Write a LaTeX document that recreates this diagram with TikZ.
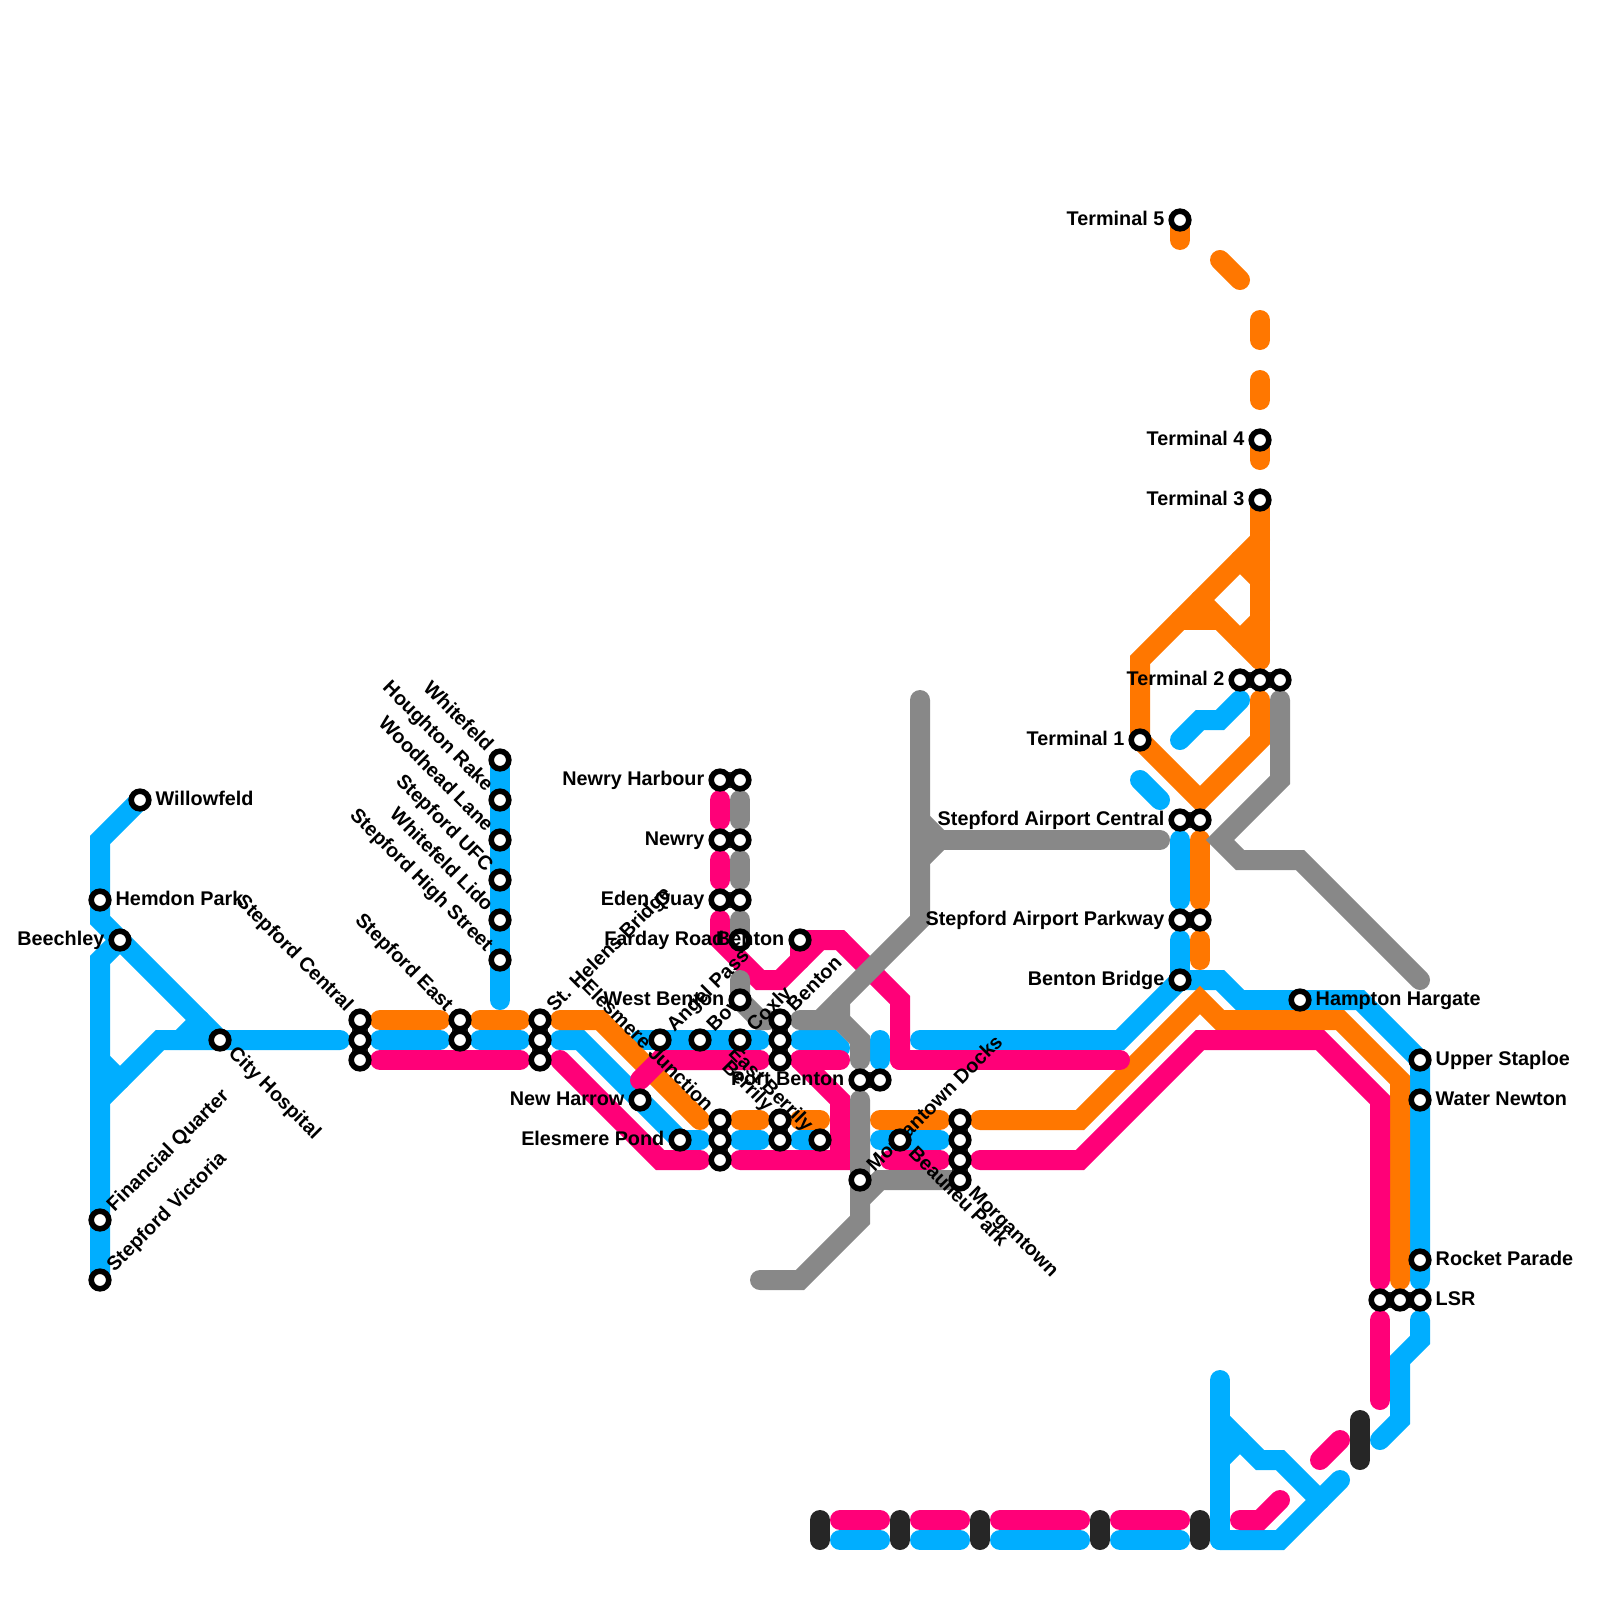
\documentclass[tikz,border=0pt]{standalone}
\usepackage{fontspec}
\setmainfont{Liberation Sans}
\usepackage{xcolor}
\usetikzlibrary{arrows.meta,positioning,calc}
\definecolor{lineblue}{HTML}{00AEFF}
\definecolor{lineorange}{HTML}{FF7700}
\definecolor{linepink}{HTML}{FF0078}
\definecolor{linegray}{HTML}{888888}
\definecolor{linedark}{HTML}{262626}
\pgfdeclarelayer{lines}
\pgfsetlayers{lines,main}
\begin{document}
\begin{tikzpicture}[x=20pt,y=-20pt]
\tikzset{
  bluel/.style={line width=20pt, line cap=round, color=lineblue},
  orangel/.style={line width=20pt, line cap=round, color=lineorange},
  pinkl/.style={line width=20pt, line cap=round, color=linepink},
  grayl/.style={line width=20pt, line cap=round, color=linegray},
  darkl/.style={line width=20pt, line cap=round, color=linedark},
  xfer/.style={line width=16pt, color=linedark},
  stn/.style={circle, draw=black, line width=5.6pt, fill=white, minimum size=17.6pt, inner sep=0pt},
  lab/.style={font=\fontsize{19.8}{24}\selectfont\bfseries, inner sep=0pt},
  labr/.style={lab, anchor=base west, xshift=15.5pt, yshift=-5pt},
  labl/.style={lab, anchor=base east, xshift=-15.5pt, yshift=-5pt},
  labur/.style={lab, anchor=base west, xshift=14.5pt, yshift=7.5pt, rotate=45},
  labdr/.style={lab, anchor=base west, xshift=7.5pt, yshift=-14.5pt, rotate=-45},
  labul/.style={lab, anchor=base east, xshift=-14.5pt, yshift=7.5pt, rotate=-45}
}
\useasboundingbox (0,0) rectangle (80,80);
\node[stn] (willowfeld) at (7,40) {};
\node[labr] (willowfeldl) at (willowfeld) {Willowfeld};
\node[stn] (hemdon) at (5,45) {};
\node[labr] (hemdonl) at (hemdon) {Hemdon Park};
\node[stn] (beechley) at (6,47) {};
\node[labl] (beechleyl) at (beechley) {Beechley};
\node[stn] (cityhosp) at (11,52) {};
\node[labdr] (cityhospl) at (cityhosp) {City Hospital};
\node[stn] (finquarter) at (5,61) {};
\node[labur] (finquarterl) at (finquarter) {Financial Quarter};
\node[stn] (stepvictoria) at (5,64) {};
\node[labur] (stepvictorial) at (stepvictoria) {Stepford Victoria};
\node[labul] (stepcentrall) at (18,51) {Stepford Central};
\node[stn] (stepcentrala) at (18,51) {};
\node[stn] (stepcentralb) at (18,52) {};
\node[stn] (stepcentralc) at (18,53) {};
\node[labul] (stepeastl) at (23,51) {Stepford East};
\node[stn] (stepeasta) at (23,51) {};
\node[stn] (stepeastb) at (23,52) {};
\node[stn] (whitefeld) at (25,38) {};
\node[labul] (whitefeldl) at (whitefeld) {Whitefeld};
\node[stn] (houghton) at (25,40) {};
\node[labul] (houghtonl) at (houghton) {Houghton Rake};
\node[stn] (woodhead) at (25,42) {};
\node[labul] (woodheadl) at (woodhead) {Woodhead Lane};
\node[stn] (stepufc) at (25,44) {};
\node[labul] (stepufcl) at (stepufc) {Stepford UFC};
\node[stn] (wflido) at (25,46) {};
\node[labul] (wflidol) at (wflido) {Whitefeld Lido};
\node[stn] (stephigh) at (25,48) {};
\node[labul] (stephighl) at (stephigh) {Stepford High Street};
\node[stn] (sthelensa) at (27,51) {};
\node[stn] (sthelensb) at (27,52) {};
\node[stn] (sthelensc) at (27,53) {};
\node[labur] (sthelensl) at (sthelensa) {St. Helens Bridge};
\node[stn] (newryhara) at (36,39) {};
\node[stn] (newryharb) at (37,39) {};
\node[labl] (newryharl) at (newryhara) {Newry Harbour};
\node[stn] (newrya) at (36,42) {};
\node[stn] (newryb) at (37,42) {};
\node[labl] (newryl) at (newrya) {Newry};
\node[stn] (edenqa) at (36,45) {};
\node[stn] (edenqb) at (37,45) {};
\node[labl] (edenql) at (edenqa) {Eden Quay};
\node[stn] (farday) at (37,47) {};
\node[labl] (fardayl) at (farday) {Farday Road};
\node[stn] (benton) at (40,47) {};
\node[labl] (bentonl) at (benton) {Benton};
\node[stn] (angelpass) at (33,52) {};
\node[labur] (angelpassl) at (angelpass) {Angel Pass};
\node[stn] (bow) at (35,52) {};
\node[labur] (bowl) at (bow) {Bow};
\node[stn] (westbenton) at (37,50) {};
\node[labl] (westbentonl) at (westbenton) {West Benton};
\node[stn] (coxly) at (37,52) {};
\node[labur] (coxlyl) at (coxly) {Coxly};
\node[stn] (northbentona) at (39,51) {};
\node[stn] (northbentonb) at (39,52) {};
\node[stn] (northbentonc) at (39,53) {};
\node[labur] (northbentonl) at (northbentona) {Benton};
\node[stn] (newharrow) at (32,55) {};
\node[labl] (newharrowl) at (newharrow) {New Harrow};
\node[stn] (elpond) at (34,57) {};
\node[labl] (elpondl) at (elpond) {Elesmere Pond};
\node[labul] (eljunctionl) at (36,56) {Elesmere Junction};
\node[stn] (eljunctiona) at (36,56) {};
\node[stn] (eljunctionb) at (36,57) {};
\node[stn] (eljunctionc) at (36,58) {};
\node[labul] (berrilyl) at (39,56) {Berrily};
\node[stn] (berrilya) at (39,56) {};
\node[stn] (berrilyb) at (39,57) {};
\node[labul] (eastberrilyl) at (41,57) {East Berrily};
\node[stn] (eastberrily) at (41,57) {};
\node[stn] (portbentona) at (43,54) {};
\node[stn] (portbentonb) at (44,54) {};
\node[labl] (portbentonl) at (portbentona) {Port Benton};
\node[stn] (mgdocks) at (43,59) {};
\node[labur] (mgdocksl) at (mgdocks) {Morgantown Docks};
\node[stn] (beaulieu) at (45,57) {};
\node[labdr] (beaulieul) at (beaulieu) {Beaulieu Park};
\node[stn] (morgana) at (48,56) {};
\node[stn] (morganb) at (48,57) {};
\node[stn] (morganc) at (48,58) {};
\node[stn] (morgand) at (48,59) {};
\node[labdr] (morganl) at (morgand) {Morgantown};
\node[stn] (aircentrala) at (59,41) {};
\node[stn] (aircentralb) at (60,41) {};
\node[labl] (aircentrall) at (aircentrala) {Stepford Airport Central};
\node[stn] (airparka) at (59,46) {};
\node[stn] (airparkb) at (60,46) {};
\node[labl] (airparkl) at (airparka) {Stepford Airport Parkway};
\node[stn] (bentonbr) at (59,49) {};
\node[labl] (bentonbrl) at (bentonbr) {Benton Bridge};
\node[stn] (hampton) at (65,50) {};
\node[labr] (hamptonl) at (hampton) {Hampton Hargate};
\node[stn] (terma) at (57,37) {};
\node[labl] (termal) at (terma) {Terminal 1};
\node[stn] (termba) at (62,34) {};
\node[stn] (termbb) at (63,34) {};
\node[stn] (termbc) at (64,34) {};
\node[labl] (termbl) at (termba) {Terminal 2};
\node[stn] (termc) at (63,25) {};
\node[labl] (termcl) at (termc) {Terminal 3};
\node[stn] (termd) at (63,22) {};
\node[labl] (termdl) at (termd) {Terminal 4};
\node[stn] (terme) at (59,11) {};
\node[labl] (termel) at (terme) {Terminal 5};
\node[stn] (upper) at (71,53) {};
\node[labr] (upperl) at (upper) {Upper Staploe};
\node[stn] (water) at (71,55) {};
\node[labr] (waterl) at (water) {Water Newton};
\node[stn] (rocket) at (71,63) {};
\node[labr] (rocketl) at (rocket) {Rocket Parade};
\node[stn] (lsra) at (69,65) {};
\node[stn] (lsrb) at (70,65) {};
\node[stn] (lsrc) at (71,65) {};
\node[labr] (lsrl) at (lsrc) {LSR};
\begin{pgfonlayer}{lines}
\draw[bluel] (willowfeld.center) -- (5,42) -- (5,46) -- (cityhosp.center) -- (17,52);
\draw[bluel] (beechley.center) -- (5,48) -- (stepvictoria.center);
\draw[bluel] (5,53) -- (6,54);
\draw[bluel] (5,55) -- (8,52) -- (cityhosp.center);
\draw[bluel] (9,52) -- (10,51);
\draw[bluel] (whitefeld.center) -- (25,50);
\draw[bluel] (19,52) -- (22,52);
\draw[bluel] (24,52) -- (26,52);
\draw[bluel] (28,52) -- (29,52) -- (34,57) -- (35,57);
\draw[bluel] (32,52) -- (38,52);
\draw[bluel] (40,52) -- (41.6,52) -- (42,52.4);
\draw[bluel] (44,52) -- (44,53);
\draw[bluel] (37,57) -- (38,57);
\draw[bluel] (40,57) -- (41,57);
\draw[bluel] (44,57) -- (47,57);
\draw[bluel] (46,52) -- (56,52) -- (59,49) -- (61,49) -- (62,50) -- (68,50) -- (71,53) -- (71,64);
\draw[bluel] (59,42) -- (59,45);
\draw[bluel] (59,47) -- (bentonbr.center);
\draw[bluel] (59,37) -- (60,36) -- (61,36) -- (62,35);
\draw[bluel] (57,39) -- (58,40);
\draw[bluel] (71,66) -- (71,67) -- (70,68) -- (70,71) -- (69,72);
\draw[bluel] (61,69) -- (61,77);
\draw[bluel] (61,77) -- (64,77) -- (67,74);
\draw[bluel] (61,71) -- (63,73) -- (64,73) -- (66,75);
\draw[bluel] (61,73) -- (62,72);
\draw[bluel] (42,77) -- (44,77);
\draw[bluel] (46,77) -- (48,77);
\draw[bluel] (50,77) -- (54,77);
\draw[bluel] (56,77) -- (59,77);
\draw[orangel] (19,51) -- (22,51);
\draw[orangel] (24,51) -- (26,51);
\draw[orangel] (28,51) -- (30,51) -- (35,56);
\draw[orangel] (37,56) -- (38,56);
\draw[orangel] (40,56) -- (41,56);
\draw[orangel] (44,56) -- (47,56);
\draw[orangel] (49,56) -- (54,56) -- (60,50) -- (61,51) -- (67,51) -- (70,54) -- (70,64);
\draw[orangel] (terme.center) -- (59,12);
\draw[orangel] (61,13) -- (62,14);
\draw[orangel] (63,16) -- (63,17);
\draw[orangel] (63,19) -- (63,20);
\draw[orangel] (termd.center) -- (63,23);
\draw[orangel] (termc.center) -- (63,33);
\draw[orangel] (terma.center) -- (57,33) -- (63,27);
\draw[orangel] (59,31) -- (61,31);
\draw[orangel] (60,30) -- (63,33);
\draw[orangel] (62,28) -- (63,29);
\draw[orangel] (63,31) -- (62,32);
\draw[orangel] (63,35) -- (63,37) -- (60,40) -- (terma.center);
\draw[orangel] (60,42) -- (60,45);
\draw[orangel] (60,47) -- (60,48);
\draw[pinkl] (19,53) -- (26,53);
\draw[pinkl] (28,53) -- (33,58) -- (35,58);
\draw[pinkl] (32,54) -- (33,53) -- (38,53);
\draw[pinkl] (40,53) -- (42,53);
\draw[pinkl] (37,58) -- (42,58) -- (42,55) -- (40,53);
\draw[pinkl] (44.5,58) -- (47,58);
\draw[pinkl] (49,58) -- (54,58) -- (60,52) -- (66,52) -- (69,55) -- (69,64);
\draw[pinkl] (36,40) -- (36,41);
\draw[pinkl] (36,43) -- (36,44);
\draw[pinkl] (36,46) -- (36,47) -- (38,49) -- (39,49) -- (41,47) -- (42,47) -- (45,50) -- (45,53);
\draw[pinkl] (45,53) -- (56,53);
\draw[pinkl] (benton.center) -- (40,48);
\draw[pinkl] (benton.center) -- (42,47);
\draw[pinkl] (69,66) -- (69,70);
\draw[pinkl] (66,73) -- (67,72);
\draw[pinkl] (62,76) -- (63,76) -- (64,75);
\draw[pinkl] (42,76) -- (44,76);
\draw[pinkl] (46,76) -- (48,76);
\draw[pinkl] (50,76) -- (54,76);
\draw[pinkl] (56,76) -- (59,76);
\draw[grayl] (37,40) -- (37,41);
\draw[grayl] (37,43) -- (37,44);
\draw[grayl] (37,46) -- (37,47);
\draw[grayl] (37,49) -- (37,50) -- (38,51) -- (38.4,51);
\draw[grayl] (46,35) -- (46,46) -- (41,51) -- (40,51);
\draw[grayl] (42,50) -- (42,51) -- (43,52) -- (43,53);
\draw[grayl] (41,51) -- (42,51);
\draw[grayl] (46,41) -- (47,42) -- (46,43);
\draw[grayl] (47,42) -- (58,42);
\draw[grayl] (43,55) -- (43,61) -- (40,64) -- (38,64);
\draw[grayl] (43,60) -- (44,59) -- (morgand.center);
\draw[grayl] (64,35) -- (64,39) -- (61,42) -- (62,43) -- (65,43) -- (71,49);
\draw[darkl] (41,76) -- (41,77);
\draw[darkl] (45,76) -- (45,77);
\draw[darkl] (49,76) -- (49,77);
\draw[darkl] (55,76) -- (55,77);
\draw[darkl] (60,76) -- (60,77);
\draw[darkl] (68,71) -- (68,73);
\draw[xfer] (stepcentrala.center) -- (stepcentralc.center);
\draw[xfer] (stepeasta.center) -- (stepeastb.center);
\draw[xfer] (sthelensa.center) -- (sthelensc.center);
\draw[xfer] (newryhara.center) -- (newryharb.center);
\draw[xfer] (newrya.center) -- (newryb.center);
\draw[xfer] (edenqa.center) -- (edenqb.center);
\draw[xfer] (northbentona.center) -- (northbentonc.center);
\draw[xfer] (eljunctiona.center) -- (eljunctionc.center);
\draw[xfer] (berrilya.center) -- (berrilyb.center);
\draw[xfer] (portbentona.center) -- (portbentonb.center);
\draw[xfer] (morgana.center) -- (morgand.center);
\draw[xfer] (aircentrala.center) -- (aircentralb.center);
\draw[xfer] (airparka.center) -- (airparkb.center);
\draw[xfer] (termba.center) -- (termbc.center);
\draw[xfer] (lsra.center) -- (lsrc.center);
\end{pgfonlayer}
\end{tikzpicture}
\end{document}
